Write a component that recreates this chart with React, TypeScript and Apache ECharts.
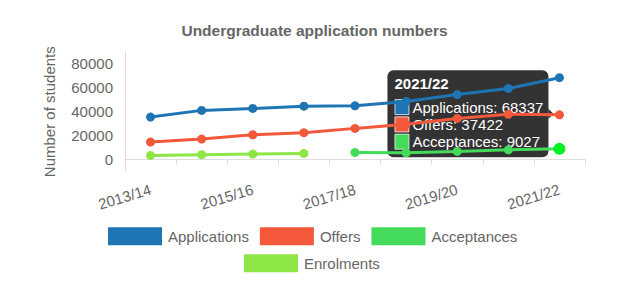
import React, { useEffect, useRef } from "react";
import * as echarts from "echarts";

const categories = ["2013/14", "2014/15", "2015/16", "2016/17", "2017/18", "2018/19", "2019/20", "2020/21", "2021/22"];
const applications = [35500, 41100, 42700, 44600, 44900, 48500, 54300, 59400, 68337];
const offers = [14700, 17200, 20800, 22500, 26100, 29500, 34400, 37800, 37422];
const acceptances = [null, null, null, null, 6100, 5800, 6900, 8200, 9027];
const enrolments = [3600, 4200, 4700, 5250, null, null, null, null, null];
const seriesNames = ["Applications", "Offers", "Acceptances", "Enrolments"];
const colors = ["#1f75b4", "#f4583a", "#44da5a", "#8ee646"];
const yTickLabels = [0, 20000, 40000, 60000, 80000];
const hoverIndex = 8;
const hoverSeries = 2;

const FONT = "'Liberation Sans', Arial, Helvetica, sans-serif";

export default function App() {
  const ref = useRef<HTMLDivElement>(null);
  useEffect(() => {
    if (!ref.current) return;
    const chart = echarts.init(ref.current, null, { renderer: "svg" });
    const seriesData = [applications, offers, acceptances, enrolments];
    const legendCommon = {
      orient: "horizontal",
      padding: 0,
      itemGap: 11,
      itemWidth: 54,
      itemHeight: 18,
      icon: "rect",
      selectedMode: false,
      textStyle: { color: "#666", fontSize: 15, fontFamily: FONT, padding: [0, 0, 0, 1] },
    };
    chart.setOption({
      animation: false,
      textStyle: { fontFamily: FONT },
      title: {
        text: "Undergraduate application numbers",
        left: "center",
        top: 22,
        padding: 0,
        textStyle: { fontSize: 15.5, fontWeight: "bold", color: "#666", fontFamily: FONT },
      },
      grid: { left: 125, right: 44, top: 51.7, bottom: 117.3 },
      xAxis: {
        type: "category",
        data: categories,
        boundaryGap: true,
        axisLine: { lineStyle: { color: "#ddd", width: 1 } },
        axisTick: { show: true, interval: 0, length: 5, lineStyle: { color: "#ddd" } },
        axisLabel: { interval: 1, rotate: 17, margin: 17, color: "#666", fontSize: 15, fontFamily: FONT },
        splitLine: { show: false },
      },
      yAxis: {
        type: "value",
        min: -10000,
        max: 90000,
        interval: 10000,
        name: "Number of students",
        nameLocation: "middle",
        nameGap: 68,
        nameTextStyle: { color: "#666", fontSize: 15, fontFamily: FONT },
        axisLine: { show: true, lineStyle: { color: "#ddd", width: 1 } },
        axisTick: { show: false },
        splitLine: { show: false },
        axisLabel: {
          color: "#666",
          fontSize: 15,
          fontFamily: FONT,
          margin: 12,
          formatter: (v: number) => (yTickLabels.includes(v) ? String(v) : ""),
        },
      },
      legend: [
        { ...legendCommon, data: seriesNames.slice(0, 3), left: 108, top: 227.3 },
        { ...legendCommon, data: seriesNames.slice(3), left: 244, top: 254.3 },
      ],
      series: seriesNames.map((name, i) => ({
        name,
        type: "line",
        data: seriesData[i].map((v, j) =>
          i === hoverSeries && j === hoverIndex
            ? { value: v, symbolSize: 12, itemStyle: { color: "#00f020" } }
            : v
        ),
        connectNulls: false,
        symbol: "circle",
        symbolSize: 9,
        lineStyle: { width: 3, color: colors[i] },
        itemStyle: { color: colors[i] },
        emphasis: { disabled: true },
      })),
    });

    // Tooltip (drawn as graphic), built from the data at hoverIndex
    const active = seriesNames
      .map((n, i) => ({ name: n, color: colors[i], value: seriesData[i][hoverIndex] }))
      .filter((d) => d.value != null);
    const pts = active.map((d) => chart.convertToPixel({ gridIndex: 0 }, [hoverIndex, d.value as number]) as number[]);
    const cx = pts.reduce((s, p) => s + p[0], 0) / pts.length;
    const cy = pts.reduce((s, p) => s + p[1], 0) / pts.length;
    const boxW = 161;
    const boxH = 87;
    const caret = 5;
    const boxRight = cx - 11;
    const boxLeft = boxRight - boxW;
    const boxTop = cy - boxH / 2;
    const bg = "rgba(0,0,0,0.8)";
    const children: any[] = [
      { type: "rect", shape: { x: 0, y: 0, width: boxW, height: boxH, r: 6 }, style: { fill: bg } },
      {
        type: "polygon",
        shape: { points: [[boxW, boxH / 2 - caret], [boxW + caret, boxH / 2], [boxW, boxH / 2 + caret]] },
        style: { fill: bg },
      },
      {
        type: "text",
        x: 7,
        y: 13.5,
        style: {
          text: categories[hoverIndex],
          fill: "#fff",
          fontSize: 15,
          fontWeight: "bold",
          fontFamily: FONT,
          verticalAlign: "middle",
        },
      },
    ];
    active.forEach((d, k) => {
      const rowY = 36.8 + k * 17.3;
      children.push({
        type: "rect",
        shape: { x: 7.5, y: rowY - 7.5, width: 14, height: 15 },
        style: { fill: d.color, stroke: "rgba(255,255,255,0.75)", lineWidth: 1 },
      });
      children.push({
        type: "text",
        x: 25,
        y: rowY,
        style: {
          text: `${d.name}: ${d.value}`,
          fill: "#fff",
          fontSize: 15,
          fontFamily: FONT,
          verticalAlign: "middle",
        },
      });
    });
    chart.setOption({
      graphic: [{ type: "group", x: boxLeft, y: boxTop, z: 100, children }],
    });

    return () => chart.dispose();
  }, []);
  return <div ref={ref} style={{ position: "absolute", left: 0, top: 0, width: 629, height: 289 }} />;
}
